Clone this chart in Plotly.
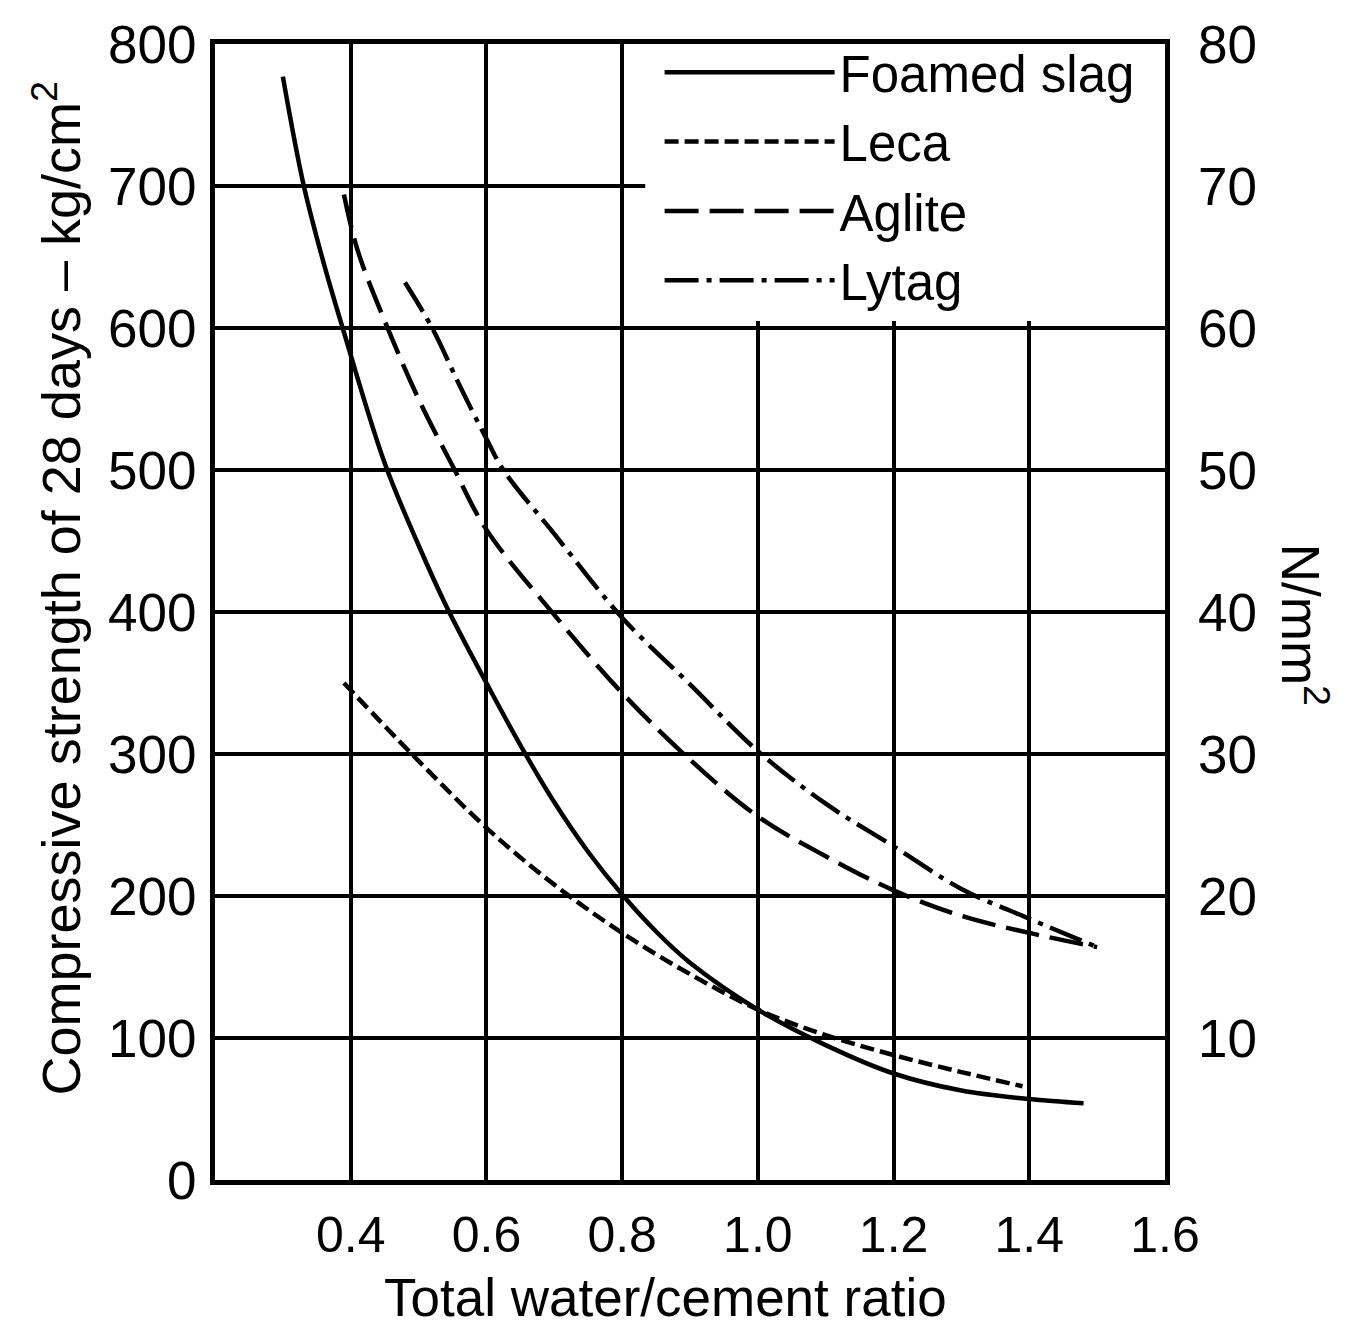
import plotly.graph_objects as go

# ---- data ----
x_tick_vals = [0.4, 0.6, 0.8, 1.0, 1.2, 1.4, 1.6]
x_tick_text = ["0.4", "0.6", "0.8", "1.0", "1.2", "1.4", "1.6"]
y_left_ticks = [0, 100, 200, 300, 400, 500, 600, 700, 800]
y_right_ticks = [10, 20, 30, 40, 50, 60, 70, 80]

foamed_x = [0.30, 0.33, 0.36, 0.39, 0.45, 0.50, 0.54, 0.60, 0.655, 0.70, 0.75, 0.80, 0.85, 0.90, 1.00, 1.10, 1.20, 1.30, 1.40, 1.48]
foamed_y = [777, 702, 646, 597, 505, 447, 405, 350, 302, 266, 231, 201, 175, 153, 120, 95, 75, 63, 57, 54]

leca_x = [0.39, 0.49, 0.60, 0.70, 0.80, 0.90, 1.00, 1.10, 1.20, 1.30, 1.39]
leca_y = [350, 300, 248, 208, 174, 145, 120, 102, 88, 76, 66]

aglite_x = [0.39, 0.41, 0.45, 0.50, 0.55, 0.60, 0.70, 0.80, 0.90, 1.00, 1.10, 1.20, 1.30, 1.40, 1.50]
aglite_y = [694, 655, 605, 550, 503, 458, 398, 343, 296, 256, 228, 204, 186, 174, 164]

lytag_x = [0.48, 0.52, 0.56, 0.60, 0.625, 0.70, 0.80, 0.90, 1.00, 1.10, 1.20, 1.30, 1.40, 1.50]
lytag_y = [632, 600, 560, 522, 500, 455, 396, 349, 302, 265, 235, 205, 184, 164]

series_names = ["Foamed slag", "Leca", "Aglite", "Lytag"]
series_x = [foamed_x, leca_x, aglite_x, lytag_x]
series_y = [foamed_y, leca_y, aglite_y, lytag_y]
series_dash = ["solid", "14px,6px", "34px,11px", "34px,8px,5px,8px"]

FONT = "Liberation Sans, Arial, Helvetica, sans-serif"

fig = go.Figure()
for name, xs, ys, dash in zip(series_names, series_x, series_y, series_dash):
    fig.add_trace(go.Scatter(
        x=xs, y=ys, mode="lines", name=name,
        line=dict(color="black", width=4.5, dash=dash, shape="spline", smoothing=1.0),
        hoverinfo="skip",
    ))

# blank area behind the legend (grid interrupted there)
fig.add_shape(type="rect", xref="x", yref="y", x0=0.834, x1=1.6, y0=605, y1=800,
              fillcolor="white", line=dict(width=0), layer="between")

fig.update_layout(
    width=1345, height=1340,
    margin=dict(l=207, r=188, t=36, b=168),
    paper_bgcolor="white", plot_bgcolor="white",
    font=dict(family=FONT, size=53, color="black"),
    showlegend=True,
    legend=dict(
        x=0.468, y=1.010, xanchor="left", yanchor="top",
        bgcolor="rgba(0,0,0,0)", borderwidth=0,
        font=dict(family=FONT, size=51, color="black"),
        itemwidth=170, tracegroupgap=0,
    ),
    xaxis=dict(
        range=[0.2, 1.6], tickmode="array", tickvals=x_tick_vals, ticktext=x_tick_text,
        showgrid=True, gridcolor="black", gridwidth=4, zeroline=False,
        showline=True, mirror=True, linecolor="black", linewidth=5,
        ticks="", ticklabelstandoff=7, automargin=False,
        tickfont=dict(family=FONT, size=50, color="black"),
    ),
    yaxis=dict(
        range=[0, 800], tickmode="array", tickvals=y_left_ticks,
        showgrid=True, gridcolor="black", gridwidth=4, zeroline=False,
        showline=True, mirror=True, linecolor="black", linewidth=5,
        ticks="", ticklabelstandoff=3, automargin=False,
        tickfont=dict(family=FONT, size=53, color="black"),
    ),
    yaxis2=dict(
        overlaying="y", side="right", range=[0, 80], tickmode="array",
        tickvals=y_right_ticks, showgrid=False, zeroline=False, showline=False,
        ticks="", ticklabelstandoff=32, automargin=False,
        tickfont=dict(family=FONT, size=53, color="black"),
    ),
    annotations=[
        dict(text="Total water/cement ratio", xref="paper", yref="paper",
             x=0.474, y=-0.103, xanchor="center", yanchor="middle", showarrow=False,
             font=dict(family=FONT, size=53, color="black")),
        dict(text="Compressive strength of 28 days \u2013 kg/cm<sup>2</sup>", xref="paper", yref="paper",
             x=-0.166, y=0.521, xanchor="center", yanchor="middle", showarrow=False, textangle=-90,
             font=dict(family=FONT, size=54, color="black")),
        dict(text="N/mm<sup>2</sup>", xref="paper", yref="paper",
             x=1.147, y=0.489, xanchor="center", yanchor="middle", showarrow=False, textangle=90,
             font=dict(family=FONT, size=53, color="black")),
    ],
)

# invisible trace so the right-hand axis is drawn
fig.add_trace(go.Scatter(x=[None], y=[None], yaxis="y2", showlegend=False, hoverinfo="skip"))

fig.write_html("out.html")
